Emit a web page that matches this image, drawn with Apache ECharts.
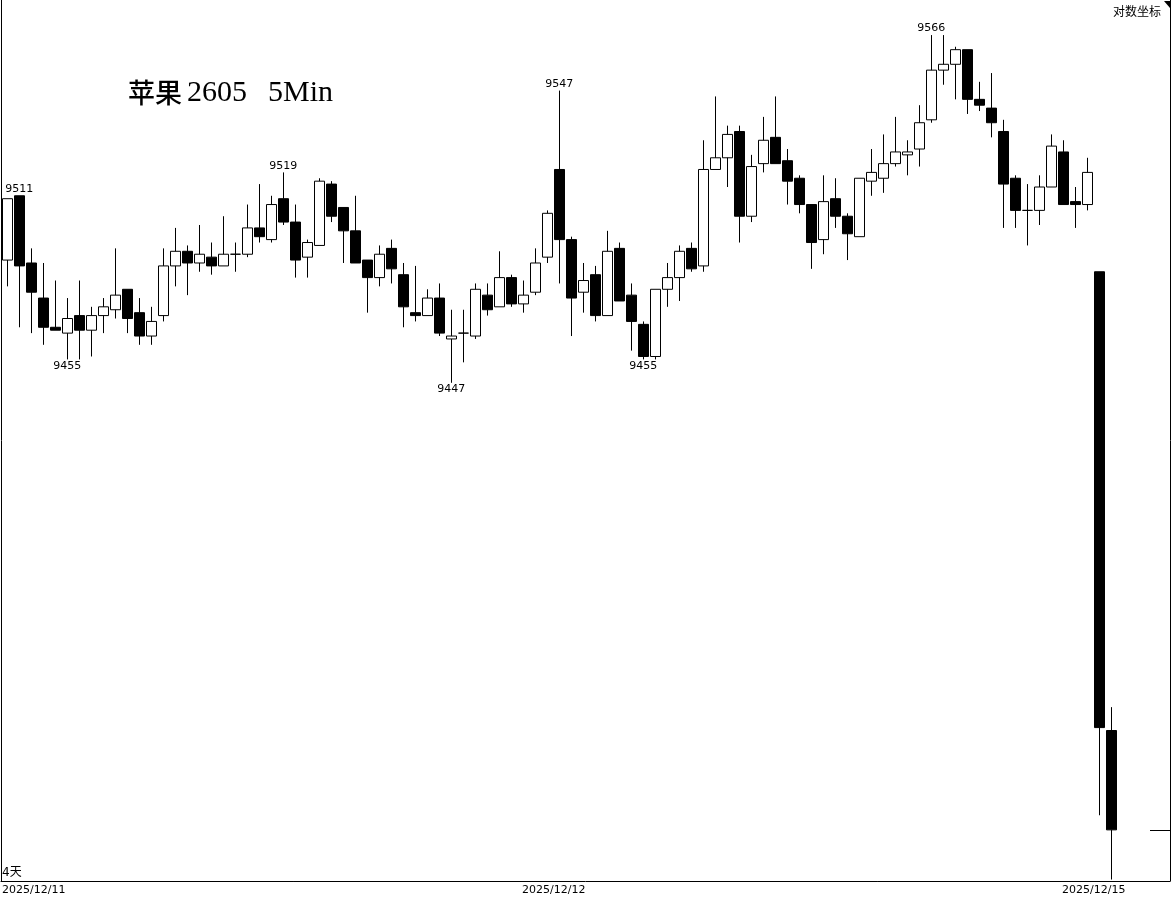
<!DOCTYPE html>
<html>
<head>
<meta charset="utf-8">
<style>html,body{margin:0;padding:0;background:#fff;}#c{width:1173px;height:899px;}</style>
<script src="https://cdn.jsdelivr.net/npm/echarts@6/dist/echarts.min.js"></script>
</head>
<body>
<div id="c"></div>
<script>
// 5-minute bars, in order
const openP  = [9489,9511,9488,9476,9466,9464,9470,9465,9470,9472,9479,9471,9463,9470,9487,9492,9488,9490,9487,9491,9491,9500,9496,9510,9502,9490,9494,9515,9507,9499,9489,9483,9493,9484,9471,9470,9476,9462,9464,9463,9477,9473,9483,9474,9478,9490,9520,9496,9478,9484,9470,9493,9477,9467,9456,9479,9483,9493,9487,9520,9524,9533,9504,9522,9531,9523,9517,9508,9496,9510,9504,9497,9516,9517,9522,9525,9527,9537,9554,9556,9561,9544,9541,9533,9517,9506,9506,9514,9526,9509,9508,9485,9328];
const closeP = [9510,9487,9478,9466,9465,9469,9465,9470,9473,9477,9469,9463,9468,9487,9492,9488,9491,9487,9491,9491,9500,9497,9508,9502,9489,9495,9516,9504,9499,9488,9483,9491,9486,9473,9470,9476,9464,9463,9464,9479,9472,9483,9474,9477,9488,9505,9496,9476,9482,9470,9492,9475,9468,9456,9479,9483,9492,9486,9520,9524,9532,9504,9521,9530,9522,9516,9508,9495,9509,9504,9498,9517,9519,9522,9526,9526,9536,9554,9556,9561,9544,9542,9536,9515,9506,9506,9514,9528,9508,9508,9519,9329,9294];
const lowP   = [9480,9466,9464,9460,9465,9455,9455,9456,9464,9469,9464,9460,9460,9468,9480,9477,9485,9484,9487,9485,9490,9495,9495,9501,9483,9483,9494,9502,9488,9488,9471,9480,9481,9466,9468,9470,9463,9447,9454,9462,9470,9473,9473,9471,9477,9488,9481,9463,9471,9468,9470,9475,9458,9455,9455,9473,9475,9485,9485,9520,9514,9495,9502,9519,9522,9508,9505,9486,9491,9500,9489,9497,9511,9512,9521,9518,9521,9536,9549,9544,9539,9540,9531,9500,9500,9494,9501,9514,9508,9500,9506,9299,9277];
const highP  = [9510,9511,9493,9488,9482,9476,9482,9473,9476,9493,9479,9476,9473,9493,9500,9494,9501,9495,9504,9495,9508,9515,9511,9519,9508,9496,9517,9516,9507,9511,9489,9494,9496,9488,9487,9479,9481,9472,9472,9481,9481,9492,9484,9482,9493,9506,9547,9497,9488,9487,9499,9495,9481,9468,9479,9488,9494,9495,9530,9545,9535,9535,9525,9538,9545,9527,9518,9508,9518,9517,9505,9517,9527,9532,9538,9530,9542,9566,9566,9562,9561,9550,9553,9537,9518,9515,9518,9532,9530,9514,9524,9485,9336];

// labelled extremes (bar indices)
const highMarkIdx = [1, 23, 46, 77];
const lowMarkIdx  = [5, 37, 53];

// date labels: day names and where each day's label sits on the bar scale
const dayLabels = ['2025/12/11', '2025/12/12', '2025/12/15'];
const dayLabelPos = [-0.525, 45.5, 90.5];

const titleName = '苹果';
const titleCode = '2605';
const titlePeriod = '5Min';
const scaleText = '对数坐标';
const periodText = '4天';

const bars = openP.map((o, i) => [i, o, closeP[i], lowP[i], highP[i]]);
const lastClose = closeP[closeP.length - 1];

const markData = highMarkIdx.map(i => ({
  coord: [i, highP[i]], value: highP[i],
  label: { position: 'top', distance: 1 }
})).concat(lowMarkIdx.map(i => ({
  coord: [i, lowP[i]], value: lowP[i],
  label: { position: 'bottom', distance: 1 }
})));

const chart = echarts.init(document.getElementById('c'));
chart.setOption({
  backgroundColor: '#fff',
  animation: false,
  title: [
    { text: '{c|' + titleName + '}{l|' + titleCode + '}{s| }{l|' + titlePeriod + '}',
      left: 128, top: 78, padding: 0,
      textStyle: {
        color: '#000',
        rich: {
          c: { fontFamily: "'Noto Sans CJK SC'", fontSize: 27, fontWeight: 500, color: '#000', lineHeight: 30, width: 59 },
          l: { fontFamily: "'Liberation Serif'", fontSize: 30, fontWeight: 'normal', color: '#000', lineHeight: 30 },
          s: { fontFamily: "'Liberation Serif'", fontSize: 30, width: 21, lineHeight: 30 }
        }
      } },
    { text: scaleText, right: 12, top: 5, padding: 0,
      textStyle: { fontFamily: "'Noto Sans CJK SC'", fontSize: 12, fontWeight: 'normal', color: '#000' } },
    { text: periodText, left: 2, top: 867, padding: 0,
      textStyle: { fontFamily: "'DejaVu Sans','Noto Sans CJK SC'", fontSize: 12, fontWeight: 'normal', color: '#000' } }
  ],
  grid: { left: 1, right: 3, top: 0, bottom: 18, containLabel: false, outerBoundsMode: 'none' },
  xAxis: {
    type: 'value', min: -0.525, max: 96.89,
    axisLine: { show: true, onZero: false, lineStyle: { color: '#000', width: 1 } },
    axisTick: { show: false },
    splitLine: { show: false },
    axisLabel: {
      show: true, customValues: dayLabelPos, margin: 4,
      fontFamily: 'DejaVu Sans', fontSize: 11, color: '#000',
      alignMinLabel: 'left', padding: [0, 0, 0, 1],
      formatter: v => dayLabels[dayLabelPos.indexOf(v)]
    }
  },
  yAxis: [
    { type: 'value', min: 9276.5, max: 9578, position: 'left',
      axisLine: { show: true, onZero: false, lineStyle: { color: '#000', width: 1 } },
      axisTick: { show: false }, axisLabel: { show: false }, splitLine: { show: false } },
    { type: 'value', min: 9276.5, max: 9578, position: 'right',
      axisLine: { show: true, onZero: false, lineStyle: { color: '#000', width: 1 } },
      axisTick: { show: true, inside: true, length: 20, customValues: [lastClose], lineStyle: { color: '#000' } },
      axisLabel: { show: false }, splitLine: { show: false } }
  ],
  graphic: [
    { type: 'polygon', shape: { points: [[1164, 1], [1170, 1], [1170, 8]] }, style: { fill: '#000' } }
  ],
  series: [{
    type: 'candlestick',
    data: bars,
    dimensions: ['x', 'open', 'close', 'lowest', 'highest'],
    encode: { x: 0, y: [1, 2, 3, 4] },
    barWidth: 10,
    itemStyle: { color: '#fff', color0: '#000', borderColor: '#000', borderColor0: '#000', borderWidth: 1 },
    markPoint: {
      symbol: 'circle', symbolSize: 0, animation: false,
      label: { show: true, color: '#000', fontFamily: 'DejaVu Sans', fontSize: 11, formatter: p => String(p.value) },
      data: markData
    }
  }]
});
</script>
</body>
</html>
